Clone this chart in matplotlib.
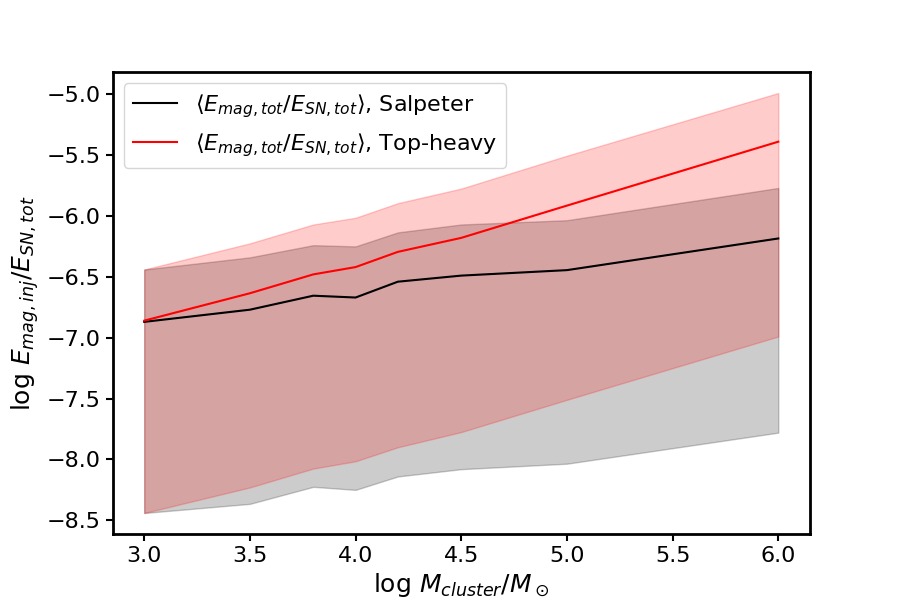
import numpy as np
import matplotlib.pyplot as plt

log_mass = np.array([3.0, 3.5, 3.8, 4.0, 4.2, 4.5, 5.0, 6.0])

# Salpeter IMF
salp_mean = np.array([-6.87, -6.77, -6.655, -6.67, -6.54, -6.49, -6.445, -6.185])
salp_hi = np.array([-6.44, -6.34, -6.24, -6.25, -6.135, -6.07, -6.035, -5.77])
salp_lo = np.array([-8.44, -8.365, -8.225, -8.25, -8.14, -8.08, -8.035, -7.78])

# top-heavy IMF
top_mean = np.array([-6.86, -6.635, -6.48, -6.42, -6.295, -6.18, -5.915, -5.39])
top_hi = np.array([-6.44, -6.225, -6.07, -6.015, -5.895, -5.775, -5.505, -4.99])
top_lo = np.array([-8.44, -8.23, -8.075, -8.015, -7.9, -7.775, -7.51, -6.99])

fig, ax = plt.subplots(figsize=(9, 6), dpi=100)

ax.fill_between(log_mass, salp_lo, salp_hi, color='k', alpha=0.2)
ax.fill_between(log_mass, top_lo, top_hi, color='r', alpha=0.2)
ax.plot(log_mass, salp_mean, 'k-', lw=1.5, label=r'$\langle E_{mag,tot}/E_{SN,tot}\rangle$, Salpeter')
ax.plot(log_mass, top_mean, 'r-', lw=1.5, label=r'$\langle E_{mag,tot}/E_{SN,tot}\rangle$, Top-heavy')

ax.set_xlabel(r'log $M_{cluster}/M_\odot$', fontsize=18)
ax.set_ylabel(r'log $E_{mag,inj}/E_{SN,tot}$', fontsize=18)
ax.tick_params(labelsize=16, width=1.5, length=5)
for sp in ax.spines.values():
    sp.set_linewidth(2)
ax.legend(fontsize=16, loc='upper left')

fig.savefig('out.png')
